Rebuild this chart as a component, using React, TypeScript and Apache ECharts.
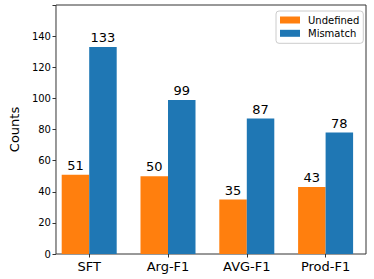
import React, { useEffect, useRef } from "react";
import * as echarts from "echarts";

const categories = ["SFT", "Arg-F1", "AVG-F1", "Prod-F1"];
const undefinedCounts = [51, 50, 35, 43];
const mismatchCounts = [133, 99, 87, 78];
const yTicks = { min: 0, max: 160, interval: 20 };

const FONT = "DejaVu Sans";

export default function App() {
  const ref = useRef<HTMLDivElement>(null);
  useEffect(() => {
    if (!ref.current) return;
    const chart = echarts.init(ref.current, null, { renderer: "svg" });
    const labelCfg = {
      show: true,
      position: "top",
      distance: 3,
      fontSize: 13,
      fontFamily: FONT,
      color: "#000",
    };
    chart.setOption({
      animation: false,
      backgroundColor: "#fff",
      textStyle: { fontFamily: FONT },
      grid: [
        { left: 47, top: 5, width: 319, height: 249, show: true, borderColor: "#333", borderWidth: 1, backgroundColor: "transparent" },
        { left: 49.8, top: 5, width: 315.2, height: 249 },
      ],
      xAxis: [
        { type: "value", gridIndex: 0, show: false, min: 0, max: 1 },
        {
          type: "category",
          gridIndex: 1,
          data: categories,
          axisLine: { show: false },
          axisTick: { show: true, alignWithLabel: true, length: 3.5, lineStyle: { color: "#333" } },
          axisLabel: { fontSize: 13, fontFamily: FONT, color: "#000", margin: 6 },
        },
      ],
      yAxis: [
        {
          type: "value",
          gridIndex: 0,
          min: yTicks.min,
          max: yTicks.max,
          interval: yTicks.interval,
          axisLine: { show: false },
          axisTick: { show: true, length: 3.5, lineStyle: { color: "#333" } },
          axisLabel: {
            fontSize: 10,
            fontFamily: FONT,
            color: "#000",
            margin: 5,
            formatter: (v: number) => (v > 140 ? "" : String(v)),
          },
          splitLine: { show: false },
          name: "Counts",
          nameLocation: "middle",
          nameRotate: 90,
          nameGap: 31,
          nameTextStyle: { fontSize: 13, fontFamily: FONT, color: "#000" },
        },
        { type: "value", gridIndex: 1, min: yTicks.min, max: yTicks.max, show: false },
      ],
      legend: {
        orient: "vertical",
        left: 276,
        top: 11,
        padding: [3, 4, 4, 4],
        itemWidth: 20,
        itemHeight: 7,
        itemGap: 1.3,
        borderColor: "#ccc",
        borderWidth: 1,
        borderRadius: 3,
        icon: "rect",
        textStyle: { fontSize: 10, fontFamily: FONT, color: "#000", lineHeight: 12, padding: [0, 0, 0, 3] },
        data: ["Undefined", "Mismatch"],
      },
      series: [
        {
          name: "Undefined",
          type: "bar",
          xAxisIndex: 1,
          yAxisIndex: 1,
          data: undefinedCounts,
          barWidth: 27.5,
          barGap: "0%",
          itemStyle: { color: "#ff7f0e" },
          label: labelCfg,
        },
        {
          name: "Mismatch",
          type: "bar",
          xAxisIndex: 1,
          yAxisIndex: 1,
          data: mismatchCounts,
          barWidth: 27.5,
          barGap: "0%",
          itemStyle: { color: "#1f77b4" },
          label: labelCfg,
        },
      ],
    });
    return () => chart.dispose();
  }, []);
  return <div ref={ref} style={{ width: 374, height: 279, position: "absolute", left: 0, top: 0 }} />;
}
